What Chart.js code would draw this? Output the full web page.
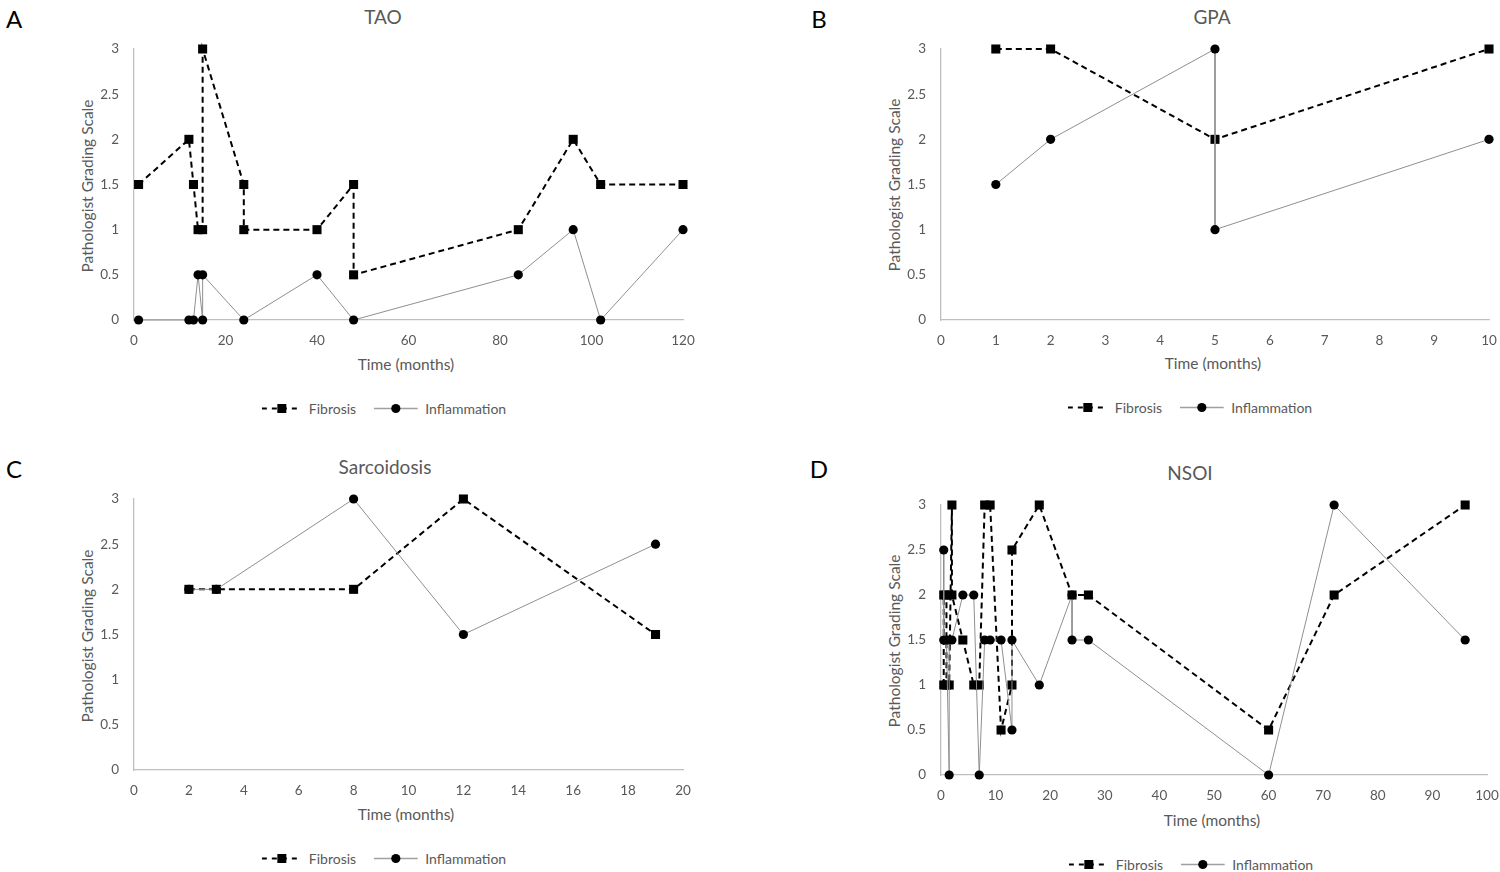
<!DOCTYPE html>
<html>
<head>
<meta charset="utf-8">
<script src="https://cdn.jsdelivr.net/npm/chart.js@4.4.1/dist/chart.umd.min.js"></script>
<style>
  body { margin: 0; width: 1500px; height: 872px; background: #fff; position: relative; overflow: hidden; font-family: Lato, "Open Sans", sans-serif; }
  canvas { position: absolute; }
  .lbl { position: absolute; transform: translate(-50%, -50%); white-space: nowrap; color: #595959; }
  .letter { position: absolute; transform: translate(-50%, -50%); font-size: 24px; color: #000; }
  .title { font-size: 19px; }
  .xt { font-size: 15.5px; }
  .yt { font-size: 15.5px; transform: translate(-50%, -50%) rotate(-90deg); }
  .legend { position: absolute; transform: translate(-50%, -50%); display: flex; align-items: center; font-size: 14px; color: #595959; white-space: nowrap; }
  .legend svg { margin-right: 7px; }
  .legend span.item { display: flex; align-items: center; }
</style>
</head>
<body>
<div class="letter" style="left:14px;top:18px">A</div>
<div class="letter" style="left:819px;top:18px">B</div>
<div class="letter" style="left:14px;top:468px">C</div>
<div class="letter" style="left:819px;top:468px">D</div>

<div class="lbl title" style="left:383px;top:16px">TAO</div>
<div class="lbl title" style="left:1212px;top:16px">GPA</div>
<div class="lbl title" style="left:385px;top:466px">Sarcoidosis</div>
<div class="lbl title" style="left:1190px;top:472px">NSOI</div>

<div class="lbl yt" style="left:87px;top:186px">Pathologist Grading Scale</div>
<div class="lbl yt" style="left:894px;top:185px">Pathologist Grading Scale</div>
<div class="lbl yt" style="left:87px;top:636px">Pathologist Grading Scale</div>
<div class="lbl yt" style="left:894px;top:641px">Pathologist Grading Scale</div>

<div class="lbl xt" style="left:406px;top:364px">Time (months)</div>
<div class="lbl xt" style="left:1213px;top:363px">Time (months)</div>
<div class="lbl xt" style="left:406px;top:814px">Time (months)</div>
<div class="lbl xt" style="left:1212px;top:820px">Time (months)</div>

<canvas id="taoChart"></canvas>
<canvas id="gpaChart"></canvas>
<canvas id="sarChart"></canvas>
<canvas id="nsoiChart"></canvas>

<div id="legA" class="legend" style="left:384px;top:408px"></div>
<div id="legB" class="legend" style="left:1190px;top:407px"></div>
<div id="legC" class="legend" style="left:384px;top:858px"></div>
<div id="legD" class="legend" style="left:1191px;top:864px"></div>

<script>
// Data (time in months, grade 0-3)
const taoFibTime = [1, 12, 13, 14, 15, 15, 24, 24, 40, 48, 48, 84, 96, 102, 120];
const taoFib = [1.5, 2, 1.5, 1, 1, 3, 1.5, 1, 1, 1.5, 0.5, 1, 2, 1.5, 1.5];
const taoInfTime = [1, 12, 13, 14, 15, 15, 24, 40, 48, 84, 96, 102, 120];
const taoInf = [0, 0, 0, 0.5, 0, 0.5, 0, 0.5, 0, 0.5, 1, 0, 1];

const gpaFibTime = [1, 2, 5, 10];
const gpaFib = [3, 3, 2, 3];
const gpaInfTime = [1, 2, 5, 5, 10];
const gpaInf = [1.5, 2, 3, 1, 2];

const sarFibTime = [2, 3, 8, 12, 19];
const sarFib = [2, 2, 2, 3, 1.5];
const sarInfTime = [2, 3, 8, 12, 19];
const sarInf = [2, 2, 3, 1.5, 2.5];

const nsoiFibTime = [0.5, 0.5, 1, 1, 1.5, 2, 2, 4, 6, 7, 8, 9, 11, 13, 13, 18, 24, 27, 60, 72, 96];
const nsoiFib = [1, 2, 2, 1, 1, 3, 2, 1.5, 1, 1, 3, 3, 0.5, 1, 2.5, 3, 2, 2, 0.5, 2, 3];
const nsoiInfTime = [0.5, 0.5, 1, 1.5, 1.5, 2, 4, 6, 7, 8, 9, 11, 13, 13, 18, 24, 24, 27, 60, 72, 96];
const nsoiInf = [2.5, 1.5, 1.5, 0, 1.5, 1.5, 2, 2, 0, 1.5, 1.5, 1.5, 0.5, 1.5, 1, 2, 1.5, 1.5, 0, 3, 1.5];

const yTicks = [0, 0.5, 1, 1.5, 2, 2.5, 3];
const seriesNames = ["Fibrosis", "Inflammation"];

function zip(xs, ys) {
  return xs.map((x, i) => ({ x: x, y: ys[i] }));
}

const Y_W = 50, X_H = 40, PAD_T = 10, PAD_R = 25;

function makePanel(id, area, xMax, xStep, fibT, fib, infT, inf) {
  const cv = document.getElementById(id);
  const w = area.r + PAD_R - (area.l - Y_W);
  const h = area.b + X_H - (area.t - PAD_T);
  cv.width = w;
  cv.height = h;
  cv.style.left = (area.l - Y_W) + "px";
  cv.style.top = (area.t - PAD_T) + "px";
  new Chart(cv.getContext("2d"), {
    type: "scatter",
    data: {
      datasets: [
        {
          label: seriesNames[1],
          data: zip(infT, inf),
          showLine: true,
          borderColor: "#8f8f8f",
          borderWidth: 1,
          pointStyle: "circle",
          pointRadius: 4.6,
          pointBackgroundColor: "#000",
          pointBorderColor: "#000",
          pointBorderWidth: 0,
          clip: false,
        },
        {
          label: seriesNames[0],
          data: zip(fibT, fib),
          showLine: true,
          borderColor: "#000",
          borderWidth: 2,
          borderDash: [6, 4],
          pointStyle: "rect",
          pointRadius: 6.4,
          pointBackgroundColor: "#000",
          pointBorderColor: "#000",
          pointBorderWidth: 0,
          clip: false,
        },
      ],
    },
    options: {
      responsive: false,
      animation: false,
      layout: { padding: { top: PAD_T, right: PAD_R, left: 0, bottom: 0 } },
      plugins: { legend: { display: false }, tooltip: { enabled: false } },
      scales: {
        x: {
          type: "linear",
          min: 0,
          max: xMax,
          grid: { display: false, drawTicks: false },
          border: { display: true, color: "#bfbfbf", width: 1.3 },
          ticks: {
            stepSize: xStep,
            padding: 13,
            color: "#595959",
            font: { family: "Lato", size: 13.5 },
            maxRotation: 0,
          },
          afterFit: function (s) {
            s.height = X_H;
            s.paddingLeft = 0;
            s.paddingRight = 0;
          },
        },
        y: {
          min: 0,
          max: 3,
          grid: { display: false, drawTicks: false },
          border: { display: true, color: "#bfbfbf", width: 1.3 },
          afterBuildTicks: function (s) {
            s.ticks = yTicks.map((v) => ({ value: v }));
          },
          ticks: {
            padding: 15,
            color: "#595959",
            font: { family: "Lato", size: 13.5 },
            callback: function (value) {
              return String(value);
            },
          },
          afterFit: function (s) {
            s.width = Y_W;
            s.paddingTop = 0;
            s.paddingBottom = 0;
          },
        },
      },
    },
  });
}

makePanel("taoChart", { l: 134, t: 49, r: 683, b: 320 }, 120, 20, taoFibTime, taoFib, taoInfTime, taoInf);
makePanel("gpaChart", { l: 941, t: 49, r: 1489, b: 320 }, 10, 1, gpaFibTime, gpaFib, gpaInfTime, gpaInf);
makePanel("sarChart", { l: 134, t: 499, r: 683, b: 770 }, 20, 2, sarFibTime, sarFib, sarInfTime, sarInf);
makePanel("nsoiChart", { l: 941, t: 505, r: 1487, b: 775 }, 100, 10, nsoiFibTime, nsoiFib, nsoiInfTime, nsoiInf);

// Legends: small line + marker swatch, then the series name
function legendHtml() {
  const fibSw = '<svg width="40" height="12"><line x1="0" y1="6" x2="40" y2="6" stroke="#000" stroke-width="2.2" stroke-dasharray="5,5"/><rect x="15.5" y="1.5" width="9" height="9" fill="#000"/></svg>';
  const infSw = '<svg width="44" height="12"><line x1="0" y1="6" x2="44" y2="6" stroke="#a0a0a0" stroke-width="1.4"/><circle cx="22" cy="6" r="4.6" fill="#000"/></svg>';
  return '<span class="item">' + fibSw + seriesNames[0] + '</span><span class="item" style="margin-left:18px">' + infSw + seriesNames[1] + "</span>";
}
["legA", "legB", "legC", "legD"].forEach((id) => {
  document.getElementById(id).innerHTML = legendHtml();
});
</script>
</body>
</html>
